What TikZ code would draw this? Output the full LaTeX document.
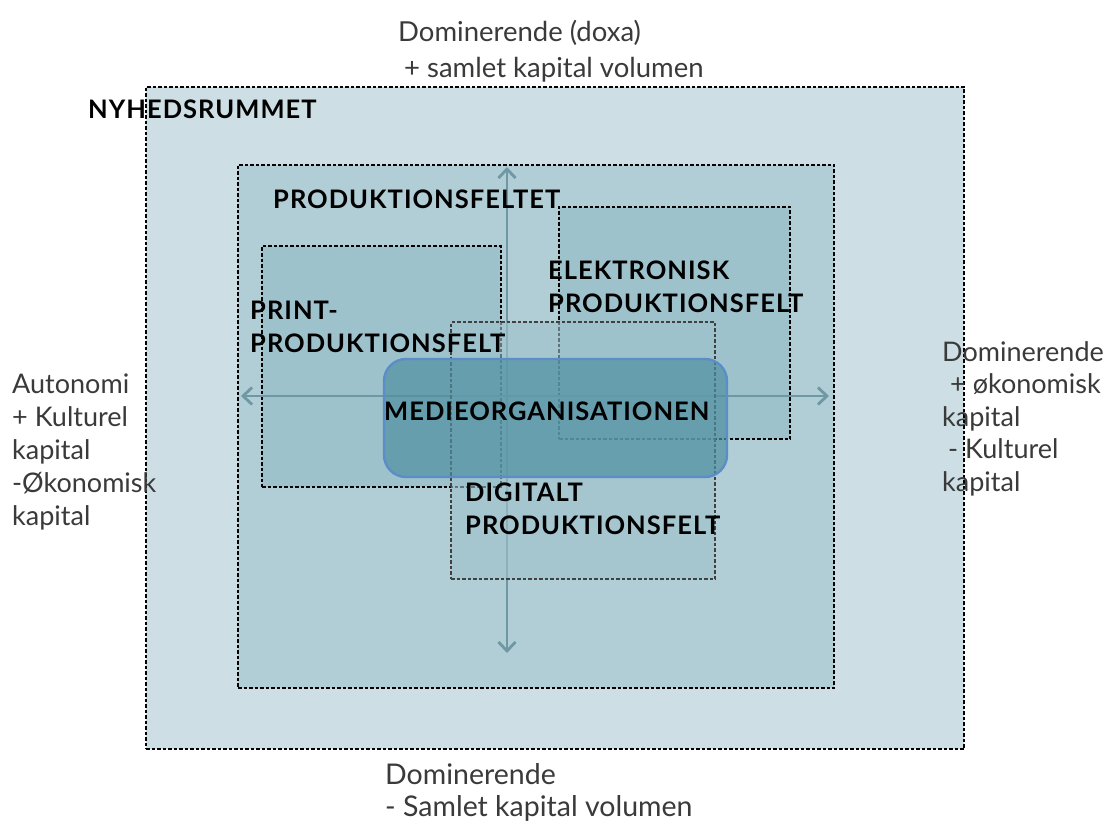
\documentclass[tikz,border=0pt]{standalone}
\usepackage{fontspec}
\setmainfont{Lato}
\usetikzlibrary{arrows.meta}
\definecolor{roomfill}{HTML}{CDDFE5}
\definecolor{prodfill}{HTML}{B1CDD5}
\definecolor{subfill}{HTML}{9EC2CC}
\definecolor{orgfill}{HTML}{4F8FA1}
\definecolor{orgline}{HTML}{5B8EC6}
\definecolor{axiscol}{HTML}{6E98A4}
\definecolor{labelcol}{HTML}{3A3A3A}
\tikzset{
  field/.style={draw=black, line width=1.6pt, dash pattern=on 3.5pt off 2pt, inner sep=0pt},
  % multi-line nodes sit on the baseline of their last line
  fieldlabel/.style={anchor=base west, inner sep=0pt, align=left,
    font=\addfontfeatures{LetterSpace=4}\fontsize{25.5}{33}\selectfont\bfseries, text=black},
  sidelabel/.style={anchor=base west, inner sep=0pt, align=left,
    font=\fontsize{27}{33}\selectfont, text=labelcol},
  axis/.style={draw=axiscol, line width=2.8pt, {Straight Barb[length=9pt,width=17pt]}-{Straight Barb[length=9pt,width=17pt]}}
}
\begin{document}
\begin{tikzpicture}[x=1pt,y=-1pt]
\useasboundingbox (0,0) rectangle (1108,821);
\fill[white] (0,0) rectangle (1108,821);

% nested fields
\node[field, fill=roomfill, minimum width=818pt, minimum height=662pt] (rum) at (555,418) {};
\node[field, fill=prodfill, minimum width=596pt, minimum height=523pt] (prod) at (536,426.5) {};
\node[field, fill=subfill, minimum width=239pt, minimum height=241pt] (print) at (381.5,366.5) {};
\node[field, fill=subfill, minimum width=231pt, minimum height=232pt] (elek) at (674.5,323) {};

% axes of the field
\coordinate (ytop) at (507,167);
\coordinate (ybot) at (507,653);
\coordinate (xleft) at (241,396);
\coordinate (xright) at (829,396);
\draw[axis] (ybot) -- (ytop);
\draw[axis] (xleft) -- (xright);

\node[field, draw=black!75, fill=subfill, fill opacity=0.6, minimum width=264pt, minimum height=257pt] (digi) at (583,450.5) {};
\node[draw=orgline, line width=2.4pt, fill=orgfill, fill opacity=0.7, rounded corners=22pt,
  minimum width=343pt, minimum height=118pt, inner sep=0pt] (org) at (555.5,418) {};

% field names
\node[fieldlabel] (lrum) at (88,119) {NYHEDSRUMMET};
\node[fieldlabel] (lprod) at (273,209) {PRODUKTIONSFELTET};
\node[fieldlabel] (lprint) at (250,352) {PRINT-\\PRODUKTIONSFELT};
\node[fieldlabel] (lelek) at (548,312) {ELEKTRONISK\\PRODUKTIONSFELT};
\node[fieldlabel] (lorg) at (384,420) {MEDIEORGANISATIONEN};
\node[fieldlabel] (ldigi) at (465,534) {DIGITALT\\PRODUKTIONSFELT};

% poles of the space
\node[sidelabel, font=\fontsize{27.5}{36}\selectfont] (top) at (398,78) {Dominerende (doxa)\\\hspace{6pt}+ samlet kapital volumen};
\node[sidelabel, font=\fontsize{28.5}{32}\selectfont] (bottom) at (385,816) {Dominerende\\- Samlet kapital volumen};
\node[sidelabel] (left) at (12,525) {Autonomi\\+ Kulturel\\kapital\\-Økonomisk\\kapital};
\node[sidelabel, font=\fontsize{27}{32.5}\selectfont] (right) at (942,491) {Dominerende\\\hspace{8pt}+ økonomisk\\kapital\\\hspace{6pt}- Kulturel\\kapital};
\end{tikzpicture}
\end{document}
